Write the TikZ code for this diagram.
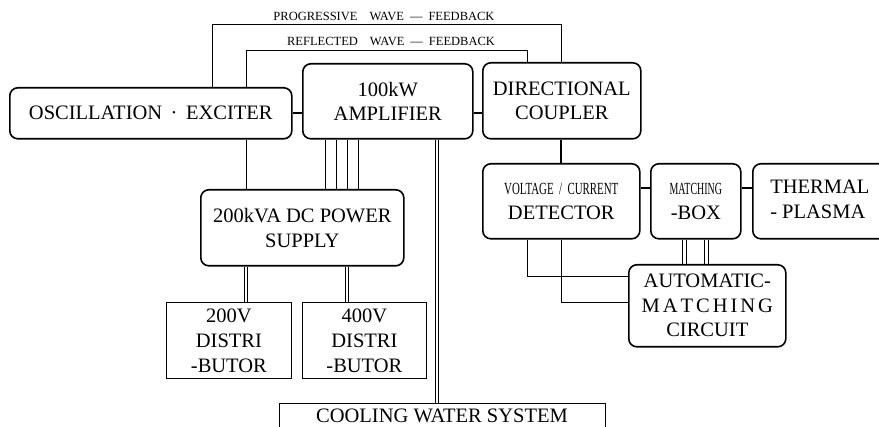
\documentclass[tikz,border=0pt]{standalone}
\usepackage{fontspec}
\setmainfont{Liberation Serif}
\usepackage{graphicx}
\tikzset{
  rbox/.style={draw, line width=1.6pt, rounded corners=8pt, anchor=north west, align=center, inner sep=0pt,
               font=\fontsize{20.5}{24.5}\selectfont},
  sbox/.style={draw, line width=0.8pt, anchor=north west, align=center, inner sep=0pt,
               font=\fontsize{20.5}{25}\selectfont},
  thinline/.style={line width=0.8pt},
  boldline/.style={line width=1.6pt},
  lbl/.style={font=\fontsize{12.5}{14}\selectfont, inner sep=0pt},
}
\newcommand{\cond}[2]{\scalebox{#1}[1]{#2}}
\begin{document}
\begin{tikzpicture}[x=1pt,y=-1pt]
\useasboundingbox (0,0) rectangle (879,427);
% boxes
\node[rbox, minimum width=282pt, minimum height=51pt] (osc) at (9,87) {OSCILLATION\,~·~\,EXCITER};
\node[rbox, minimum width=170pt, minimum height=75pt] (amp) at (302,63) {100kW\\AMPLIFIER};
\node[rbox, minimum width=158pt, minimum height=76pt] (dc) at (482,62) {DIRECTIONAL\\COUPLER};
\node[rbox, minimum width=157pt, minimum height=75pt] (vc) at (482,163)
  {\cond{0.64}{\fontsize{17}{17}\selectfont VOLTAGE\ \ /\ \ CURRENT}\\[1pt]DETECTOR};
\node[rbox, minimum width=90pt, minimum height=75pt] (mb) at (650,163)
  {\cond{0.585}{\fontsize{17}{17}\selectfont MATCHING}\\[1pt]-BOX};
\node[rbox, minimum width=134pt, minimum height=75pt] (th) at (752,163)
  {\begin{tabular}{@{}l@{}}THERMAL\\- PLASMA\end{tabular}};
\node[rbox, minimum width=203pt, minimum height=76pt] (ps) at (200,189) {200kVA\ DC\ POWER\\SUPPLY};
\node[sbox, minimum width=125pt, minimum height=76pt] (d2) at (166,302) {200V\\DISTRI\\-BUTOR};
\node[sbox, minimum width=124pt, minimum height=76pt] (d4) at (302,302) {400V\\DISTRI\\-BUTOR};
\node[rbox, minimum width=157pt, minimum height=82pt] (au) at (628,264)
  {AUTOMATIC-\\M\hspace{3pt}A\hspace{3pt}T\hspace{3pt}C\hspace{3pt}H\hspace{3pt}I\hspace{3pt}N\hspace{3pt}G\\CIRCUIT};
\node[sbox, minimum width=326pt, minimum height=50pt] (cw) at (279,403) {};
\node[font=\fontsize{20.5}{24}\selectfont, inner sep=0pt] (cwt) at (442,416) {COOLING WATER SYSTEM};
% helper coordinates
\coordinate (p1) at (212,24.5);
\coordinate (p2) at (561,24.5);
\coordinate (r1) at (246,50);
\coordinate (r2) at (527,50);
\coordinate (h1) at (0,188);
\coordinate (v1) at (527,276);
\coordinate (v2) at (561,302);
% feedback lines
\draw[thinline] (osc.north -| p1) -- (p1) -- (p2) -- (dc.north -| p2);
\draw[thinline] (osc.north -| r1) -- (r1) -- (r2) -- (dc.north -| r2);
\node[lbl] (lp) at (384,16) {PROGRESSIVE\hspace{12pt}WAVE\hspace{6pt}---\hspace{6pt}FEEDBACK};
\node[lbl] (lr) at (391,41) {REFLECTED\hspace{12pt}WAVE\hspace{6pt}---\hspace{6pt}FEEDBACK};
% main chain
\draw[boldline] (osc.east) -- (osc.east -| amp.west);
\draw[boldline] (amp.east |- osc.east) -- (dc.west |- osc.east);
\draw[boldline] (dc.south -| p2) -- (vc.north -| p2);
\draw[boldline] (vc.east |- h1) -- (mb.west |- h1);
\draw[boldline] (mb.east |- h1) -- (th.west |- h1);
% power lines
\draw[thinline] (osc.south -| r1) -- (ps.north -| r1);
\foreach \x in {325,336,347,358} {
  \coordinate (t) at (\x,0);
  \draw[thinline] (amp.south -| t) -- (ps.north -| t);
}
\foreach \x in {244,247.5} {
  \coordinate (t) at (\x,0);
  \draw[thinline] (ps.south -| t) -- (d2.north -| t);
}
\foreach \x in {345,348.5} {
  \coordinate (t) at (\x,0);
  \draw[thinline] (ps.south -| t) -- (d4.north -| t);
}
\foreach \x in {435,438.5} {
  \coordinate (t) at (\x,0);
  \draw[thinline] (amp.south -| t) -- (cw.north -| t);
}
% matching lines
\foreach \x in {682.5,686,704.5,708} {
  \coordinate (t) at (\x,0);
  \draw[thinline] (mb.south -| t) -- (au.north -| t);
}
\draw[thinline] (vc.south -| v1) -- (v1) -- (au.west |- v1);
\draw[thinline] (vc.south -| v2) -- (v2) -- (au.west |- v2);
\end{tikzpicture}
\end{document}
